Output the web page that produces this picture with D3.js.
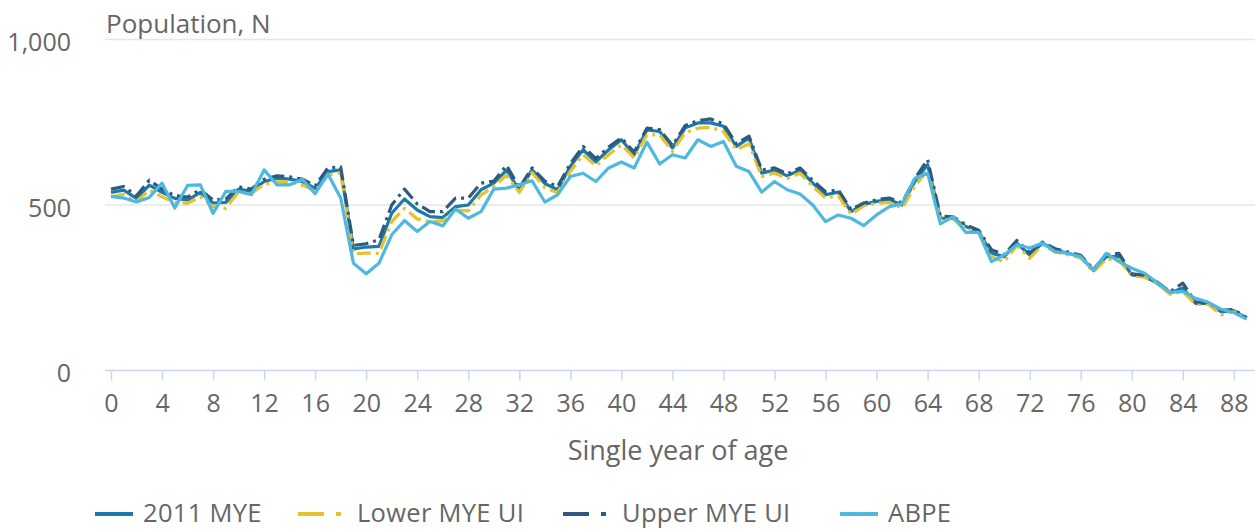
<!DOCTYPE html>
<html><head><meta charset="utf-8">
<script src="https://cdn.jsdelivr.net/npm/d3@7"></script>
<style>
body{margin:0;background:#fff;}
svg{display:block;font-family:"Open Sans",sans-serif;}
</style></head><body>
<svg id="chart" width="1255" height="529"></svg>
<script>
const ages = d3.range(0, 90);
const xTickLabels = d3.range(0, 89, 4);
const yTickValues = [0, 500, 1000];
const seriesNames = ["2011 MYE", "Lower MYE UI", "Upper MYE UI", "ABPE"];

const mye = [538,545,520,560,538,520,515,538,506,508,548,541,571,581,578,571,550,601,606,367,
373,375,475,518,485,465,462,495,500,546,566,605,545,606,565,546,617,667,630,667,
697,652,727,722,672,733,748,748,738,677,702,596,606,588,606,566,531,539,480,502,
511,516,500,571,622,460,460,435,420,354,344,385,349,385,364,354,344,302,344,344,
289,284,264,234,249,203,203,178,181,158];

const lowerUI = [525,532,510,545,525,508,505,525,495,490,540,535,562,570,570,560,542,590,598,352,
355,354,450,490,458,450,452,485,482,530,556,590,538,598,552,538,601,652,618,652,
682,642,712,712,662,718,732,735,722,667,685,586,596,580,596,556,521,528,472,498,
505,508,490,556,606,455,457,430,418,344,328,378,339,380,358,350,340,298,336,334,
286,282,262,230,239,200,200,168,178,156];

const upperUI = [548,556,528,575,548,528,524,546,515,518,555,548,578,588,585,578,558,612,615,378,
383,395,500,548,503,480,480,521,521,566,572,620,552,612,572,556,625,677,640,675,
703,660,732,728,680,740,755,760,745,685,708,606,612,594,612,574,540,546,486,506,
516,521,506,580,637,466,464,440,424,365,350,393,355,388,368,358,348,306,350,354,
292,288,267,238,264,207,206,182,184,160];

const abpe = [526,521,509,523,566,491,559,561,475,541,541,531,606,561,561,578,534,594,521,324,
292,324,410,453,420,450,437,488,460,480,548,551,561,573,509,531,586,596,571,612,
630,612,690,624,652,642,697,677,692,617,601,539,571,546,533,500,450,470,460,438,
470,495,504,581,596,443,465,417,417,329,349,380,370,385,359,354,344,302,354,329,
309,294,266,236,239,218,206,185,175,155];

const svg = d3.select("#chart");
const x = d3.scaleLinear().domain([0, 89]).range([111, 1246.6]);
const y = d3.scaleLinear().domain([0, 1000]).range([370.5, 39.5]);

// gridlines
svg.append("g").selectAll("line").data(yTickValues.filter(v => v > 0)).join("line")
  .attr("x1", 105).attr("x2", 1255)
  .attr("y1", d => y(d)).attr("y2", d => y(d))
  .attr("stroke", "#e6e6e6").attr("stroke-width", 1.5);

// y labels
svg.append("g").selectAll("text").data(yTickValues).join("text")
  .attr("x", 71).attr("y", d => y(d) + 3).attr("dy", "0.35em")
  .attr("text-anchor", "end").attr("fill", "#666").attr("font-size", 25)
  .text(d => d3.format(",")(d));

// x axis
const xAxis = d3.axisBottom(x).tickValues(xTickLabels).tickSize(10).tickPadding(14).tickFormat(d3.format("d"));
const gx = svg.append("g").attr("transform", "translate(0,370.5)").call(xAxis);
gx.select(".domain").remove();
gx.append("line").attr("x1", 105).attr("x2", 1255).attr("y1", 0).attr("y2", 0)
  .attr("stroke", "#ccd6eb").attr("stroke-width", 1.5);
gx.selectAll(".tick line").attr("stroke", "#ccd6eb").attr("stroke-width", 1.5);
gx.selectAll(".tick text").attr("fill", "#666").attr("font-size", 25)
  .attr("font-family", "'Open Sans',sans-serif");

// titles
svg.append("text").attr("x", 106).attr("y", 33).attr("fill", "#666").attr("font-size", 26)
  .text("Population, N");
svg.append("text").attr("x", 678).attr("y", 460).attr("text-anchor", "middle")
  .attr("fill", "#666").attr("font-size", 27).text("Single year of age");

const series = [
  {name: seriesNames[0], values: mye, color: "#1c7aa8", dash: null},
  {name: seriesNames[1], values: lowerUI, color: "#e8c12f", dash: "14,5,3,5"},
  {name: seriesNames[2], values: upperUI, color: "#2e5a80", dash: "14,5,3,5"},
  {name: seriesNames[3], values: abpe, color: "#4db9e1", dash: null}
];

const line = d3.line().x((d, i) => x(ages[i])).y(d => y(d));
svg.append("g").selectAll("path").data(series).join("path")
  .attr("d", d => line(d.values))
  .attr("fill", "none").attr("stroke", d => d.color).attr("stroke-width", 3.2)
  .attr("stroke-linejoin", "round")
  .attr("stroke-dasharray", d => d.dash);

// legend
const legendText = [143, 357, 622, 888];
const lg = svg.append("g").selectAll("g").data(series).join("g")
  .attr("transform", (d, i) => `translate(${legendText[i]},513)`);
lg.append("line").attr("x1", d => d.dash ? -59 : -48).attr("x2", d => d.dash ? -14 : -10)
  .attr("y1", 1).attr("y2", 1)
  .attr("stroke", d => d.color).attr("stroke-width", 4)
  .attr("stroke-dasharray", d => d.dash ? "26,12,5,12" : null);
lg.append("text").attr("x", 0).attr("y", 0).attr("dy", "0.35em")
  .attr("fill", "#666").attr("font-size", 25.5).attr("letter-spacing", 0.3).text(d => d.name);
</script>
</body></html>
